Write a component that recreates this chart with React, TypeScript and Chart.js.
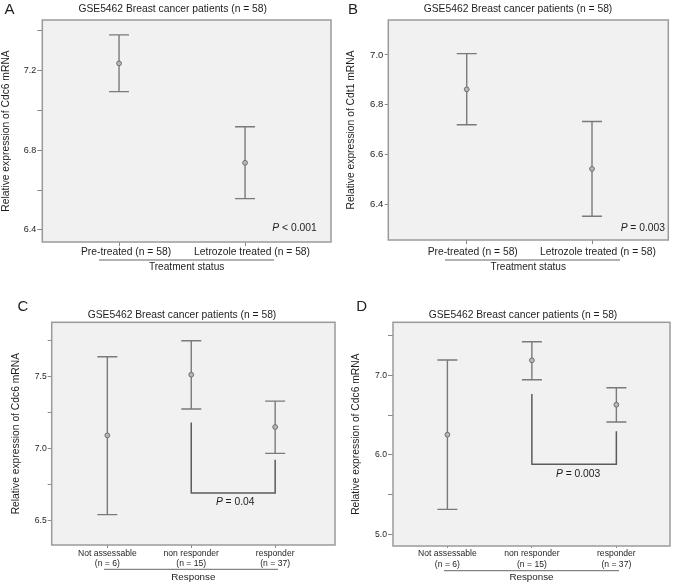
import React, { useEffect, useRef } from "react";
import { Chart, registerables } from "chart.js";

Chart.register(...registerables);

const FONT = "'Liberation Sans', Arial, Helvetica, sans-serif";
const TITLE = "GSE5462 Breast cancer patients (n = 58)";

// ---------- Panel A : Cdc6 by treatment status ----------
const A_CATEGORIES = ["Pre-treated (n = 58)", "Letrozole treated (n = 58)"];
const A_MEAN = [7.237, 6.737];
const A_LOWER = [7.095, 6.557];
const A_UPPER = [7.38, 6.918];
const A_Y_TICKS = [6.4, 6.6, 6.8, 7.0, 7.2, 7.4];
const A_Y_LABELED = [6.4, 6.8, 7.2];
const A_Y_RANGE = [6.339, 7.455];
const A_X_RANGE = [0.391, 2.682];
const A_P = "< 0.001";

// ---------- Panel B : Cdt1 by treatment status ----------
const B_CATEGORIES = ["Pre-treated (n = 58)", "Letrozole treated (n = 58)"];
const B_MEAN = [6.862, 6.543];
const B_LOWER = [6.72, 6.353];
const B_UPPER = [7.005, 6.733];
const B_Y_TICKS = [6.4, 6.6, 6.8, 7.0];
const B_Y_LABELED = [6.4, 6.6, 6.8, 7.0];
const B_Y_RANGE = [6.258, 7.14];
const B_X_RANGE = [0.374, 2.609];
const B_P = "= 0.003";

// ---------- Panel C : Cdc6 by response ----------
const C_CATEGORIES = ["Not assessable", "non responder", "responder"];
const C_N = [6, 15, 37];
const C_MEAN = [7.09, 7.511, 7.148];
const C_LOWER = [6.54, 7.273, 6.965];
const C_UPPER = [7.636, 7.747, 7.328];
const C_Y_TICKS = [6.5, 6.75, 7.0, 7.25, 7.5, 7.75];
const C_Y_LABELED = [6.5, 7.0, 7.5];
const C_Y_RANGE = [6.329, 7.875];
const C_X_RANGE = [0.337, 3.713];
const C_BRACKET_TOPS = [7.18, 6.92];
const C_BRACKET_BASE = 6.69;
const C_P = "= 0.04";

// ---------- Panel D : Cdc6 by response ----------
const D_CATEGORIES = ["Not assessable", "non responder", "responder"];
const D_N = [6, 15, 37];
const D_MEAN = [6.253, 7.189, 6.63];
const D_LOWER = [5.314, 6.945, 6.413];
const D_UPPER = [7.193, 7.423, 6.844];
const D_Y_TICKS = [5.0, 5.5, 6.0, 6.5, 7.0, 7.5];
const D_Y_LABELED = [5.0, 6.0, 7.0];
const D_Y_RANGE = [4.853, 7.667];
const D_X_RANGE = [0.356, 3.635];
const D_BRACKET_TOPS = [6.765, 6.296];
const D_BRACKET_BASE = 5.88;
const D_P = "= 0.003";

const TEXT = "#1e1e1e";
const BG = "#f1f1f1";
const BORDER = "#9a9a9a";
const BAR = "#7a7a7a";
const TICK = "#888888";

type Spec = {
  canvas: [number, number, number, number];
  area: [number, number, number, number];
  xRange: number[];
  yRange: number[];
  yTicks: number[];
  yMajor: number[];
  labels: (string | string[])[];
  mean: number[];
  lower: number[];
  upper: number[];
  letter: string;
  letterPos: [number, number];
  titlePos: [number, number];
  yTitle: string;
  yTitlePad: number;
  xTitle: string;
  xTitleSize: number;
  xTitlePad: number;
  xTickSize: number;
  xTickLH: number;
  xTickLen: number;
  xTickPad: number;
  xLabelOffset: number;
  yTickSize: number;
  yTickLen: number;
  yTickPad: number;
  groupLine: [number, number, number];
  pText: string;
  pCorner?: [number, number];
  bracket?: { tops: number[]; base: number; pDx: number; pDy: number };
};

function drawP(ctx: CanvasRenderingContext2D, rest: string, x: number, y: number, align: "right" | "center") {
  const size = 10.3;
  ctx.textBaseline = "middle";
  ctx.textAlign = "left";
  ctx.font = `italic ${size}px ${FONT}`;
  const wP = ctx.measureText("P").width;
  ctx.font = `${size}px ${FONT}`;
  const wR = ctx.measureText(" " + rest).width;
  const total = wP + wR;
  const x0 = align === "right" ? x - total : x - total / 2;
  ctx.fillStyle = TEXT;
  ctx.font = `italic ${size}px ${FONT}`;
  ctx.fillText("P", x0, y);
  ctx.font = `${size}px ${FONT}`;
  ctx.fillText(" " + rest, x0 + wP, y);
}

function makePlugin(spec: Spec) {
  return {
    id: "panelDecor",
    beforeDraw(chart: any) {
      const { ctx, chartArea } = chart;
      const { left, top, right, bottom } = chartArea;
      ctx.save();
      ctx.fillStyle = BG;
      ctx.fillRect(left, top, right - left, bottom - top);
      ctx.restore();
    },
    beforeDatasetsDraw(chart: any) {
      const { ctx } = chart;
      const xs = chart.scales.x;
      const ys = chart.scales.y;
      ctx.save();
      ctx.strokeStyle = BAR;
      ctx.lineWidth = 1.4;
      spec.lower.forEach((lo, i) => {
        const px = xs.getPixelForValue(i + 1);
        const pl = ys.getPixelForValue(lo);
        const ph = ys.getPixelForValue(spec.upper[i]);
        ctx.beginPath();
        ctx.moveTo(px, pl);
        ctx.lineTo(px, ph);
        ctx.moveTo(px - 10, pl);
        ctx.lineTo(px + 10, pl);
        ctx.moveTo(px - 10, ph);
        ctx.lineTo(px + 10, ph);
        ctx.stroke();
      });
      if (spec.bracket) {
        const b = spec.bracket;
        const x1 = xs.getPixelForValue(2);
        const x2 = xs.getPixelForValue(3);
        const yb = ys.getPixelForValue(b.base);
        ctx.strokeStyle = "#5c5c5c";
        ctx.lineWidth = 1.5;
        ctx.beginPath();
        ctx.moveTo(x1, ys.getPixelForValue(b.tops[0]));
        ctx.lineTo(x1, yb);
        ctx.lineTo(x2, yb);
        ctx.lineTo(x2, ys.getPixelForValue(b.tops[1]));
        ctx.stroke();
        drawP(ctx, spec.pText, (x1 + x2) / 2 + b.pDx, yb + b.pDy, "center");
      }
      ctx.restore();
    },
    afterDraw(chart: any) {
      const { ctx, chartArea } = chart;
      const { left, top, right, bottom } = chartArea;
      ctx.save();
      ctx.strokeStyle = BORDER;
      ctx.lineWidth = 1.5;
      ctx.strokeRect(left, top, right - left, bottom - top);

      ctx.fillStyle = TEXT;
      ctx.textAlign = "center";
      ctx.textBaseline = "middle";
      ctx.font = `15px ${FONT}`;
      ctx.fillText(spec.letter, spec.letterPos[0], spec.letterPos[1]);
      ctx.font = `10.3px ${FONT}`;
      ctx.fillText(TITLE, spec.titlePos[0], spec.titlePos[1]);

      if (spec.pCorner) {
        drawP(ctx, spec.pText, right - spec.pCorner[0], bottom - spec.pCorner[1], "right");
      }

      const [gx1, gx2, gy] = spec.groupLine;
      ctx.strokeStyle = "#666";
      ctx.lineWidth = 1;
      ctx.beginPath();
      ctx.moveTo(gx1, gy);
      ctx.lineTo(gx2, gy);
      ctx.stroke();
      ctx.restore();
    },
  };
}

function buildConfig(spec: Spec): any {
  const [, , w, h] = spec.canvas;
  const [l, t, r, b] = spec.area;
  const xPositions = spec.mean.map((_, i) => i + 1);
  return {
    type: "scatter",
    data: {
      datasets: [
        {
          data: spec.mean.map((m, i) => ({ x: xPositions[i], y: m })),
          pointRadius: 2.4,
          pointBackgroundColor: "#b8b8b8",
          pointBorderColor: "#6e6e6e",
          pointBorderWidth: 1,
          showLine: false,
        },
      ],
    },
    options: {
      responsive: false,
      animation: false,
      devicePixelRatio: 1,
      layout: { padding: { left: 0, top: t, right: w - r, bottom: 0 } },
      plugins: {
        legend: { display: false },
        tooltip: { enabled: false },
        title: { display: false },
      },
      scales: {
        x: {
          type: "linear",
          position: "bottom",
          min: spec.xRange[0],
          max: spec.xRange[1],
          afterBuildTicks: (s: any) => {
            s.ticks = xPositions.map((v) => ({ value: v }));
          },
          afterFit: (s: any) => {
            s.height = h - b;
          },
          ticks: {
            autoSkip: false,
            maxRotation: 0,
            minRotation: 0,
            color: TEXT,
            padding: spec.xTickPad,
            labelOffset: spec.xLabelOffset,
            font: { family: FONT, size: spec.xTickSize, lineHeight: spec.xTickLH },
            callback: (v: number) => {
              const i = xPositions.indexOf(v);
              return i >= 0 ? spec.labels[i] : "";
            },
          },
          grid: {
            display: true,
            drawOnChartArea: false,
            drawTicks: true,
            tickLength: spec.xTickLen,
            color: TICK,
            tickColor: TICK,
            lineWidth: 1,
          },
          border: { display: false },
          title: {
            display: true,
            text: spec.xTitle,
            color: TEXT,
            font: { family: FONT, size: spec.xTitleSize, lineHeight: 1.2 },
            padding: { top: 0, bottom: spec.xTitlePad },
          },
        },
        y: {
          type: "linear",
          position: "left",
          min: spec.yRange[0],
          max: spec.yRange[1],
          afterBuildTicks: (s: any) => {
            s.ticks = spec.yTicks.map((v) => ({ value: v }));
          },
          afterFit: (s: any) => {
            s.width = l;
          },
          ticks: {
            autoSkip: false,
            color: TEXT,
            padding: spec.yTickPad,
            font: { family: FONT, size: spec.yTickSize },
            callback: (v: number) =>
              spec.yMajor.some((m) => Math.abs(m - v) < 1e-6) ? Number(v).toFixed(1) : "",
          },
          grid: {
            display: true,
            drawOnChartArea: false,
            drawTicks: true,
            tickLength: spec.yTickLen,
            color: TICK,
            tickColor: TICK,
            lineWidth: 1,
          },
          border: { display: false },
          title: {
            display: true,
            text: spec.yTitle,
            color: TEXT,
            font: { family: FONT, size: 10.3, lineHeight: 1.2 },
            padding: { top: spec.yTitlePad, bottom: 0 },
          },
        },
      },
    },
    plugins: [makePlugin(spec)],
  };
}

const SPECS: Spec[] = [
  {
    canvas: [0, 0, 340, 290],
    area: [42.3, 20, 331, 242],
    xRange: A_X_RANGE,
    yRange: A_Y_RANGE,
    yTicks: A_Y_TICKS,
    yMajor: A_Y_LABELED,
    labels: A_CATEGORIES,
    mean: A_MEAN,
    lower: A_LOWER,
    upper: A_UPPER,
    letter: "A",
    letterPos: [9.5, 10],
    titlePos: [172.7, 9],
    yTitle: "Relative expression of Cdc6 mRNA",
    yTitlePad: 0,
    xTitle: "Treatment status",
    xTitleSize: 10.1,
    xTitlePad: 16.9,
    xTickSize: 10.3,
    xTickLH: 1.2,
    xTickLen: 4,
    xTickPad: 0,
    xLabelOffset: 7,
    yTickSize: 9,
    yTickLen: 5,
    yTickPad: 1,
    groupLine: [99, 274, 260],
    pText: A_P,
    pCorner: [14.3, 14.3],
  },
  {
    canvas: [337, 0, 338, 290],
    area: [51.3, 20, 331.3, 240],
    xRange: B_X_RANGE,
    yRange: B_Y_RANGE,
    yTicks: B_Y_TICKS,
    yMajor: B_Y_LABELED,
    labels: B_CATEGORIES,
    mean: B_MEAN,
    lower: B_LOWER,
    upper: B_UPPER,
    letter: "B",
    letterPos: [16, 10],
    titlePos: [181, 9],
    yTitle: "Relative expression of Cdt1 mRNA",
    yTitlePad: 7.8,
    xTitle: "Treatment status",
    xTitleSize: 10.1,
    xTitlePad: 16.9,
    xTickSize: 10.3,
    xTickLH: 1.2,
    xTickLen: 4,
    xTickPad: 1.5,
    xLabelOffset: 6,
    yTickSize: 9.5,
    yTickLen: 3.5,
    yTickPad: 1.5,
    groupLine: [108, 283, 260],
    pText: B_P,
    pCorner: [3.3, 12.3],
  },
  {
    canvas: [0, 290, 340, 295],
    area: [51.7, 32.3, 337, 255],
    xRange: C_X_RANGE,
    yRange: C_Y_RANGE,
    yTicks: C_Y_TICKS,
    yMajor: C_Y_LABELED,
    labels: C_CATEGORIES.map((c, i) => [c, `(n = ${C_N[i]})`]),
    mean: C_MEAN,
    lower: C_LOWER,
    upper: C_UPPER,
    letter: "C",
    letterPos: [23, 17],
    titlePos: [182, 25],
    yTitle: "Relative expression of Cdc6 mRNA",
    yTitlePad: 9.8,
    xTitle: "Response",
    xTitleSize: 9.8,
    xTitlePad: 1.8,
    xTickSize: 8.6,
    xTickLH: 1.244,
    xTickLen: 3,
    xTickPad: 0,
    xLabelOffset: 0,
    yTickSize: 8.6,
    yTickLen: 4,
    yTickPad: 1,
    groupLine: [104, 278, 279.3],
    pText: C_P,
    bracket: { tops: C_BRACKET_TOPS, base: C_BRACKET_BASE, pDx: 2, pDy: 9.5 },
  },
  {
    canvas: [337, 290, 338, 295],
    area: [56, 32.3, 334.7, 256],
    xRange: D_X_RANGE,
    yRange: D_Y_RANGE,
    yTicks: D_Y_TICKS,
    yMajor: D_Y_LABELED,
    labels: D_CATEGORIES.map((c, i) => [c, `(n = ${D_N[i]})`]),
    mean: D_MEAN,
    lower: D_LOWER,
    upper: D_UPPER,
    letter: "D",
    letterPos: [24.7, 17],
    titlePos: [186, 25],
    yTitle: "Relative expression of Cdc6 mRNA",
    yTitlePad: 12.8,
    xTitle: "Response",
    xTitleSize: 9.8,
    xTitlePad: 1.8,
    xTickSize: 8.6,
    xTickLH: 1.3,
    xTickLen: 2,
    xTickPad: 0,
    xLabelOffset: 0,
    yTickSize: 8.6,
    yTickLen: 5,
    yTickPad: 1,
    groupLine: [107, 282, 280.7],
    pText: D_P,
    bracket: { tops: D_BRACKET_TOPS, base: D_BRACKET_BASE, pDx: 4, pDy: 10 },
  },
];

function Panel({ spec }: { spec: Spec }) {
  const ref = useRef<HTMLCanvasElement>(null);
  useEffect(() => {
    if (!ref.current) return;
    const chart = new Chart(ref.current, buildConfig(spec));
    return () => chart.destroy();
  }, [spec]);
  const [l, t, w, h] = spec.canvas;
  return (
    <canvas
      ref={ref}
      width={w}
      height={h}
      style={{ position: "absolute", left: l, top: t, width: w, height: h }}
    />
  );
}

export default function App() {
  return (
    <div
      style={{
        position: "absolute",
        left: 0,
        top: 0,
        width: 675,
        height: 585,
        background: "#ffffff",
        overflow: "hidden",
      }}
    >
      {SPECS.map((s) => (
        <Panel key={s.letter} spec={s} />
      ))}
    </div>
  );
}
